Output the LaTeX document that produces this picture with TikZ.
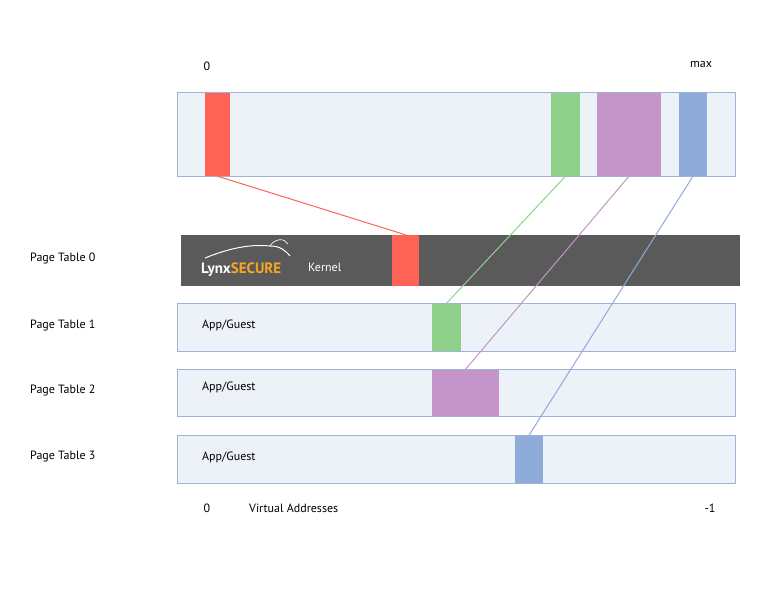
\documentclass[tikz,border=0pt]{standalone}
\usepackage{fontspec}
\setmainfont{PT Sans}
\begin{document}
\definecolor{barfill}{HTML}{ECF2F7}
\definecolor{barline}{HTML}{9DB4D6}
\definecolor{cred}{HTML}{FF6355}
\definecolor{cgreen}{HTML}{8FD18A}
\definecolor{cpurple}{HTML}{C594C9}
\definecolor{cblue}{HTML}{8EABDA}
\definecolor{kern}{HTML}{5A5A5A}
\definecolor{lorange}{HTML}{F5A623}
\begin{tikzpicture}[x=1pt,y=-1pt,
  bar/.style={draw=barline,fill=barfill,line width=0.8pt},
  blk/.style={draw=none},
  lbl/.style={font=\fontsize{12}{14}\selectfont,inner sep=0pt},
  link/.style={line width=1pt}]
\useasboundingbox (0,0) rectangle (776,600);
% top bar
\draw[bar] (177,92) rectangle (735,176);
\node[blk,fill=cred,minimum width=25pt,minimum height=84pt,inner sep=0pt] (tr) at (217.5,134) {};
\node[blk,fill=cgreen,minimum width=29pt,minimum height=84pt,inner sep=0pt] (tg) at (565.5,134) {};
\node[blk,fill=cpurple,minimum width=64pt,minimum height=84pt,inner sep=0pt] (tp) at (629,134) {};
\node[blk,fill=cblue,minimum width=28pt,minimum height=84pt,inner sep=0pt] (tb) at (693,134) {};
\draw[barline,line width=0.8pt] (177,92) rectangle (735,176);
% kernel bar
\fill[kern] (181,235) rectangle (740,286);
\node[blk,fill=cred,minimum width=27pt,minimum height=51pt,inner sep=0pt] (kr) at (405.5,260.5) {};
\node[lbl,anchor=base west,text=white] (logo) at (201,273) {\fontsize{15}{15}\selectfont\bfseries Lynx\textcolor{lorange}{SECURE}};
\node[lbl,anchor=base west,text=white] (kl) at (308,271) {Kernel};
\draw[white,line width=1pt] (205,258) .. controls (230,248) and (250,244) .. (270,246) .. controls (280,246) and (285,250) .. (290,256);
\draw[white,line width=0.7pt] (270,246) .. controls (275,238) and (285,238) .. (288,244);
% page tables
\draw[bar] (177,303) rectangle (735,351);
\node[blk,fill=cgreen,minimum width=29pt,minimum height=47pt,inner sep=0pt] (g1) at (446.5,327) {};
\draw[bar] (177,369) rectangle (735,416);
\node[blk,fill=cpurple,minimum width=67pt,minimum height=46pt,inner sep=0pt] (p2) at (465.5,392.5) {};
\draw[bar] (177,435) rectangle (735,483);
\node[blk,fill=cblue,minimum width=28pt,minimum height=47pt,inner sep=0pt] (b3) at (529,459) {};
% links
\draw[link,cred] (tr.south) -- (kr.north);
\draw[link,cgreen] (tg.south) -- (g1.north);
\draw[link,cpurple] (tp.south) -- (p2.north);
\draw[link,cblue] (tb.south) -- (b3.north);
% labels
\node[lbl] (z0) at (207,66) {0};
\node[lbl] (mx) at (701,64) {max};
\node[lbl,anchor=west] (pt0) at (30,258) {Page Table 0};
\node[lbl,anchor=west] (pt1) at (30,325) {Page Table 1};
\node[lbl,anchor=west] (pt2) at (30,390) {Page Table 2};
\node[lbl,anchor=west] (pt3) at (30,457) {Page Table 3};
\node[lbl,anchor=west] (a1) at (202,325) {App/Guest};
\node[lbl,anchor=west] (a2) at (202,387) {App/Guest};
\node[lbl,anchor=west] (a3) at (202,457) {App/Guest};
\node[lbl] (b0) at (207,508) {0};
\node[lbl,anchor=west] (va) at (249,508) {Virtual Addresses};
\node[lbl] (m1) at (710,508) {-1};
\end{tikzpicture}
\end{document}
